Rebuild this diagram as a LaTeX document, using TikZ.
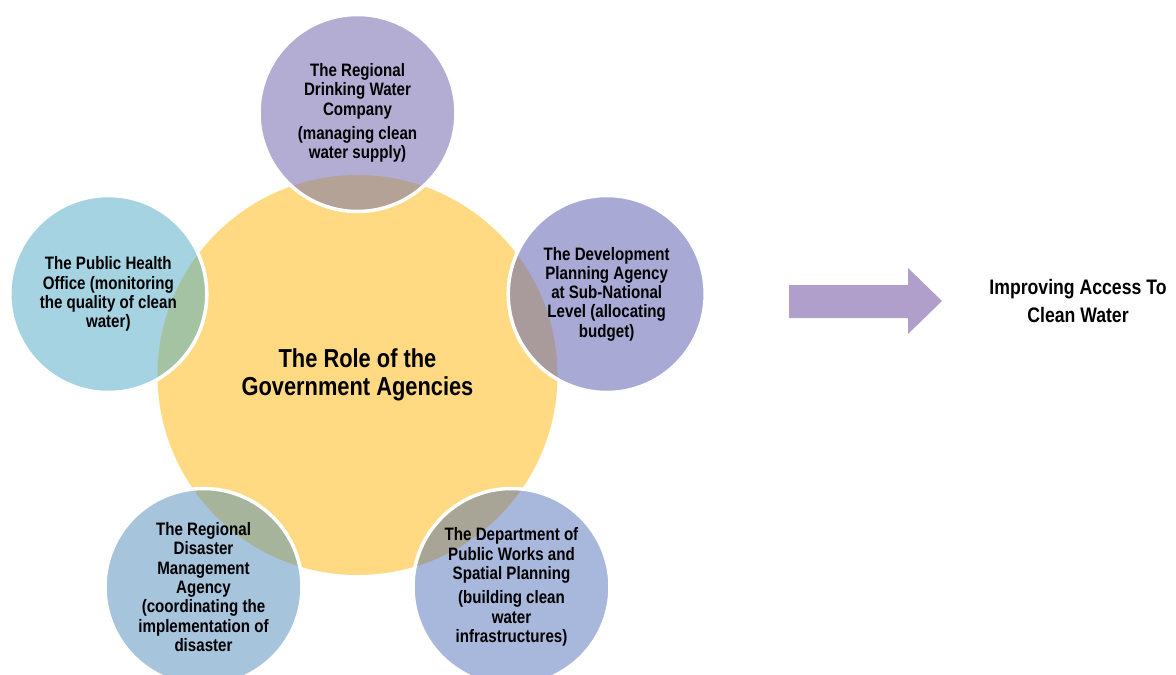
\documentclass[tikz,border=0pt]{standalone}
\usepackage{fontspec}
\setmainfont{Liberation Sans}[FakeStretch=0.84]

\definecolor{hubY}{HTML}{FFDA82}
\definecolor{topP}{HTML}{B3ADD4}\definecolor{topO}{HTML}{B4A297}
\definecolor{rgtP}{HTML}{A9A9D6}\definecolor{rgtO}{HTML}{A99B9C}
\definecolor{lftP}{HTML}{A5D3E2}\definecolor{lftO}{HTML}{A3C3A2}
\definecolor{blP}{HTML}{A7C4DD}\definecolor{blO}{HTML}{A6B49B}
\definecolor{brP}{HTML}{A8B7DC}\definecolor{brO}{HTML}{A9A596}
\definecolor{arrowP}{HTML}{B09FCA}

\tikzset{
  hubdisc/.style={circle, fill=hubY, inner sep=0pt, minimum size=400pt,
    align=center, font=\fontsize{26}{28}\selectfont\bfseries},
  % outer disc: own colour, overlap with the hub tinted, white rim on top
  petal/.style n args={2}{circle, inner sep=0pt, minimum size=197pt,
    fill=#1, draw=white, line width=3.5pt, align=center,
    font=\fontsize{18}{19.3}\selectfont\bfseries,
    path picture={\fill[#2] (hub.center) circle (200pt);}},
  blockarrow/.style={fill=arrowP},
  goal/.style={align=center, font=\fontsize{21}{28}\selectfont\bfseries},
}

\begin{document}
\begin{tikzpicture}[x=1pt, y=-1pt]
\useasboundingbox (0,0) rectangle (1176,675);
\clip (0,0) rectangle (1176,675);

\node[hubdisc] (hub) at (357.5,375) {The Role of the\\Government Agencies};

\node[petal={topP}{topO}] (water) at (357.5,113)
  {The Regional\\Drinking Water\\Company\\[5pt](managing clean\\water supply)};
\node[petal={rgtP}{rgtO}] (plan) at (606.7,294)
  {The Development\\Planning Agency\\at Sub-National\\Level (allocating\\budget)};
\node[petal={lftP}{lftO}] (health) at (108.3,294)
  {The Public Health\\Office (monitoring\\the quality of clean\\water)};
\node[petal={blP}{blO}] (disaster) at (203.5,587)
  {The Regional\\Disaster\\Management\\Agency\\(coordinating the\\implementation of\\disaster};
\node[petal={brP}{brO}] (works) at (511.5,587)
  {The Department of\\Public Works and\\Spatial Planning\\[5pt](building clean\\water\\infrastructures)};

% block arrow towards the outcome
\fill[blockarrow] (789,285) -- (908,285) -- (908,268) -- (942,301)
  -- (908,334) -- (908,318) -- (789,318) -- cycle;

\node[goal] (access) at (1078,301) {Improving Access To\\Clean Water};
\end{tikzpicture}
\end{document}
